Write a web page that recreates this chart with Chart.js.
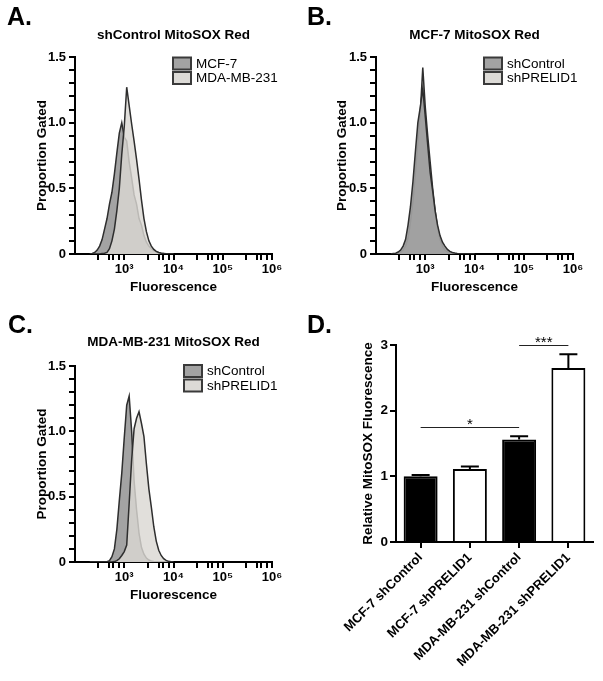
<!DOCTYPE html>
<html>
<head>
<meta charset="utf-8">
<script src="https://cdn.jsdelivr.net/npm/chart.js@4.4.0/dist/chart.umd.min.js"></script>
<style>
  body { margin: 0; background: #fff; width: 603px; height: 681px; position: relative; overflow: hidden; }
  canvas { position: absolute; }
</style>
</head>
<body>
<canvas id="chart-a" width="300" height="300" style="left:0;top:0"></canvas>
<canvas id="chart-b" width="303" height="300" style="left:300px;top:0"></canvas>
<canvas id="chart-c" width="300" height="310" style="left:0;top:300px"></canvas>
<canvas id="chart-d" width="303" height="381" style="left:300px;top:300px"></canvas>
<script>
// histogram bin centres (fluorescence, log spaced)
const fluorBins = [200, 224, 251, 282, 316, 355, 398, 447, 501, 562, 631, 708, 794, 891, 1000,
  1122, 1259, 1413, 1585, 1778, 1995, 2239, 2512, 2818, 3162, 3548, 3981, 4467, 5012, 5623,
  6310, 7079, 7943, 8913, 10000];

// A. shControl MitoSOX Red
const aMCF7 = [0, 0.004, 0.012, 0.03, 0.06, 0.11, 0.19, 0.27, 0.38, 0.47, 0.61, 0.77, 0.92, 1.00, 0.89,
  0.86, 0.70, 0.58, 0.45, 0.38, 0.27, 0.22, 0.14, 0.09, 0.06, 0.04, 0.025, 0.015, 0.01, 0.006,
  0.004, 0.002, 0, 0, 0];
const aMDA = [0, 0, 0, 0, 0, 0.003, 0.006, 0.012, 0.04, 0.10, 0.19, 0.33, 0.50, 0.76, 0.97,
  1.27, 1.13, 0.99, 0.86, 0.72, 0.57, 0.41, 0.27, 0.17, 0.10, 0.06, 0.035, 0.02, 0.012, 0.006,
  0.003, 0.001, 0, 0, 0];

// B. MCF-7 MitoSOX Red
const bShControl = [0, 0.003, 0.006, 0.015, 0.03, 0.06, 0.11, 0.22, 0.36, 0.55, 0.78, 1.00, 1.12, 1.26, 1.05,
  0.83, 0.62, 0.48, 0.33, 0.22, 0.14, 0.09, 0.06, 0.035, 0.02, 0.012, 0.007, 0.004, 0.002, 0.001,
  0, 0, 0, 0, 0];
const bShPRELID1 = [0, 0, 0.002, 0.005, 0.012, 0.03, 0.06, 0.12, 0.24, 0.40, 0.62, 0.86, 1.08, 1.42, 1.12,
  0.90, 0.70, 0.50, 0.33, 0.20, 0.11, 0.06, 0.03, 0.015, 0.008, 0.004, 0.002, 0, 0, 0,
  0, 0, 0, 0, 0];

// C. MDA-MB-231 MitoSOX Red
const cShControl = [0, 0, 0, 0, 0, 0, 0, 0.002, 0.01, 0.04, 0.10, 0.25, 0.47, 0.68, 0.95,
  1.20, 1.27, 1.00, 0.62, 0.40, 0.22, 0.11, 0.06, 0.03, 0.015, 0.008, 0.004, 0.002, 0, 0,
  0, 0, 0, 0, 0];
const cShPRELID1 = [0, 0, 0, 0, 0, 0, 0, 0, 0, 0, 0.003, 0.01, 0.025, 0.05, 0.08,
  0.13, 0.45, 0.78, 1.02, 1.10, 1.15, 1.06, 0.96, 0.75, 0.56, 0.42, 0.27, 0.16, 0.09, 0.05,
  0.025, 0.012, 0.005, 0.002, 0];

// log axis ticks
const majorTicks = [1000, 10000, 100000, 1000000];
const majorLabels = ['10³', '10⁴', '10⁵', '10⁶'];
const minorTicks = [300, 500, 600, 800, 3000, 5000, 6000, 8000, 30000, 50000, 60000, 80000,
  300000, 500000, 600000, 800000];

// D. bar chart
const barCategories = ['MCF-7 shControl', 'MCF-7 shPRELID1', 'MDA-MB-231 shControl', 'MDA-MB-231 shPRELID1'];
const barMeans = [1.00, 1.11, 1.56, 2.65];
const barSem = [0.02, 0.04, 0.05, 0.21];
const barFills = ['#000000', '#ffffff', '#000000', '#ffffff'];
const sigPairs = [
  { from: 0, to: 2, level: 1.75, mark: '*' },
  { from: 2, to: 3, level: 3.0, mark: '***' }
];

const FONT = "'Liberation Sans', Arial, Helvetica, sans-serif";
Chart.defaults.font.family = FONT;
Chart.defaults.color = '#000';

const DARK = { fill: 'rgba(158,158,158,0.95)', legend: '#a3a3a3' };
const LIGHT = { fill: 'rgba(218,216,211,0.82)', legend: '#dcdad6' };

function letterPlugin(text, x, y) {
  return {
    id: 'panelLetter',
    afterDraw(chart) {
      const ctx = chart.ctx;
      ctx.save();
      ctx.font = 'bold 25px ' + FONT;
      ctx.fillStyle = '#000';
      ctx.textBaseline = 'alphabetic';
      ctx.fillText(text, x, y);
      ctx.restore();
    }
  };
}

function legendPlugin(x, y) {
  return {
    id: 'boxLegend',
    afterDraw(chart) {
      const ctx = chart.ctx;
      ctx.save();
      chart.data.datasets.forEach((ds, i) => {
        const yy = y + i * 14.5;
        ctx.fillStyle = ds.legendFill;
        ctx.fillRect(x, yy, 18, 12);
        ctx.strokeStyle = '#3a3a3a';
        ctx.lineWidth = 2;
        ctx.strokeRect(x, yy, 18, 12);
        ctx.fillStyle = '#000';
        ctx.font = '13.5px ' + FONT;
        ctx.textBaseline = 'middle';
        ctx.fillText(ds.label, x + 23, yy + 6.5);
      });
      ctx.restore();
    }
  };
}

function histogram(id, cfg) {
  const toPoints = ys => fluorBins.map((x, i) => ({ x, y: ys[i] }));
  const boldFont = { size: 13.5, weight: 'bold' };
  return new Chart(document.getElementById(id), {
    type: 'line',
    data: {
      datasets: cfg.series.map(s => ({
        label: s.label,
        data: toPoints(s.values),
        order: s.order,
        backgroundColor: s.style.fill,
        legendFill: s.style.legend,
        borderColor: '#2e2e2e',
        borderWidth: 1.5,
        fill: 'origin',
        pointRadius: 0,
        tension: 0
      }))
    },
    options: {
      responsive: false,
      animation: false,
      layout: { padding: { left: 0, right: cfg.padRight, top: 0, bottom: 0 } },
      plugins: {
        legend: { display: false },
        tooltip: { enabled: false },
        title: {
          display: true, fullSize: false, text: cfg.title, color: '#000', font: boldFont,
          padding: { top: cfg.titleTop, bottom: cfg.titleBottom }
        }
      },
      scales: {
        x: {
          type: 'logarithmic', min: 100, max: 1000000,
          afterBuildTicks: s => { s.ticks = majorTicks.concat(minorTicks).sort((a, b) => a - b).map(v => ({ value: v })); },
          afterFit: s => { s.height = cfg.xAxisH; },
          ticks: {
            autoSkip: false, maxRotation: 0, minRotation: 0, padding: 2, color: '#000', font: { size: 13, weight: 'bold' },
            callback: v => { const k = majorTicks.indexOf(v); return k >= 0 ? majorLabels[k] : ''; }
          },
          grid: { drawOnChartArea: false, color: '#000', lineWidth: 2, tickLength: 6 },
          border: { color: '#000', width: 2 },
          title: { display: true, text: 'Fluorescence', color: '#000', font: boldFont, padding: { top: 0, bottom: cfg.xTitlePad } }
        },
        y: {
          min: 0, max: 1.5,
          afterFit: s => { s.width = cfg.yAxisW; },
          ticks: {
            stepSize: 0.1, autoSkip: false, padding: 3, color: '#000', font: { size: 13, weight: 'bold' },
            callback: v => { const r = Math.round(v * 10); return r % 5 === 0 ? (r === 0 ? '0' : (r / 10).toFixed(1)) : ''; }
          },
          grid: { drawOnChartArea: false, color: '#000', lineWidth: 2, tickLength: 6 },
          border: { color: '#000', width: 2 },
          title: { display: true, text: 'Proportion Gated', color: '#000', font: boldFont, padding: { top: cfg.yTitlePad, bottom: 0 } }
        }
      }
    },
    plugins: [letterPlugin(cfg.letter, cfg.letterX, cfg.letterY), legendPlugin(cfg.legendX, cfg.legendY)]
  });
}

histogram('chart-a', {
  title: 'shControl MitoSOX Red', letter: 'A.', letterX: 7, letterY: 25,
  series: [
    { label: 'MCF-7', values: aMCF7, style: DARK, order: 1 },
    { label: 'MDA-MB-231', values: aMDA, style: LIGHT, order: 0 }
  ],
  padRight: 28, yAxisW: 75, xAxisH: 46, titleTop: 27.6, titleBottom: 13.2,
  xTitlePad: 5, yTitlePad: 34.4, legendX: 173, legendY: 57.5
});

histogram('chart-b', {
  title: 'MCF-7 MitoSOX Red', letter: 'B.', letterX: 7, letterY: 25,
  series: [
    { label: 'shControl', values: bShControl, style: DARK, order: 0 },
    { label: 'shPRELID1', values: bShPRELID1, style: LIGHT, order: 1 }
  ],
  padRight: 30, yAxisW: 76, xAxisH: 46, titleTop: 27.6, titleBottom: 13.2,
  xTitlePad: 5, yTitlePad: 34.4, legendX: 184, legendY: 57.5
});

histogram('chart-c', {
  title: 'MDA-MB-231 MitoSOX Red', letter: 'C.', letterX: 8, letterY: 33,
  series: [
    { label: 'shControl', values: cShControl, style: DARK, order: 1 },
    { label: 'shPRELID1', values: cShPRELID1, style: LIGHT, order: 0 }
  ],
  padRight: 28, yAxisW: 75, xAxisH: 48, titleTop: 34.6, titleBottom: 15.2,
  xTitlePad: 7, yTitlePad: 34.4, legendX: 184, legendY: 65
});

// D. bar chart with error bars and significance marks
const errorBars = {
  id: 'errorBars',
  afterDatasetsDraw(chart) {
    const { ctx, scales: { y } } = chart;
    const meta = chart.getDatasetMeta(0);
    ctx.save();
    ctx.strokeStyle = '#000';
    ctx.lineWidth = 2;
    meta.data.forEach((bar, i) => {
      const top = y.getPixelForValue(barMeans[i]);
      const cap = y.getPixelForValue(barMeans[i] + barSem[i]);
      ctx.beginPath();
      ctx.moveTo(bar.x, top);
      ctx.lineTo(bar.x, cap);
      ctx.moveTo(bar.x - 9, cap);
      ctx.lineTo(bar.x + 9, cap);
      ctx.stroke();
    });
    ctx.restore();
  }
};

const sigBars = {
  id: 'sigBars',
  afterDatasetsDraw(chart) {
    const { ctx, scales: { x, y } } = chart;
    ctx.save();
    ctx.strokeStyle = '#222';
    ctx.lineWidth = 1;
    ctx.fillStyle = '#000';
    ctx.font = '15px ' + FONT;
    ctx.textAlign = 'center';
    ctx.textBaseline = 'alphabetic';
    sigPairs.forEach(p => {
      const x1 = x.getPixelForValue(p.from);
      const x2 = x.getPixelForValue(p.to);
      const yy = Math.round(y.getPixelForValue(p.level)) + 0.5;
      ctx.beginPath();
      ctx.moveTo(x1, yy);
      ctx.lineTo(x2, yy);
      ctx.stroke();
      ctx.fillText(p.mark, (x1 + x2) / 2, yy + 1);
    });
    ctx.restore();
  }
};

new Chart(document.getElementById('chart-d'), {
  type: 'bar',
  data: {
    labels: barCategories,
    datasets: [{
      data: barMeans,
      backgroundColor: barFills,
      borderColor: '#000',
      borderWidth: 2,
      barPercentage: 0.69,
      categoryPercentage: 1.0
    }]
  },
  options: {
    responsive: false,
    animation: false,
    layout: { padding: { left: 0, right: 10, top: 45, bottom: 0 } },
    plugins: { legend: { display: false }, tooltip: { enabled: false } },
    scales: {
      x: {
        afterFit: s => { s.height = 139; },
        ticks: { autoSkip: false, minRotation: 45, maxRotation: 45, padding: 2, color: '#000', font: { size: 13, weight: 'bold' } },
        grid: { offset: false, drawOnChartArea: false, color: '#000', lineWidth: 2, tickLength: 6 },
        border: { color: '#000', width: 2 }
      },
      y: {
        min: 0, max: 3,
        afterFit: s => { s.width = 96; },
        ticks: { stepSize: 1, padding: 2, color: '#000', font: { size: 13.5, weight: 'bold' } },
        grid: { drawOnChartArea: false, color: '#000', lineWidth: 2, tickLength: 6 },
        border: { color: '#000', width: 2 },
        title: { display: true, text: 'Relative MitoSOX Fluorescence', color: '#000', font: { size: 13.5, weight: 'bold' }, padding: { top: 60, bottom: 0 } }
      }
    }
  },
  plugins: [errorBars, sigBars, letterPlugin('D.', 7, 33)]
});
</script>
</body>
</html>
